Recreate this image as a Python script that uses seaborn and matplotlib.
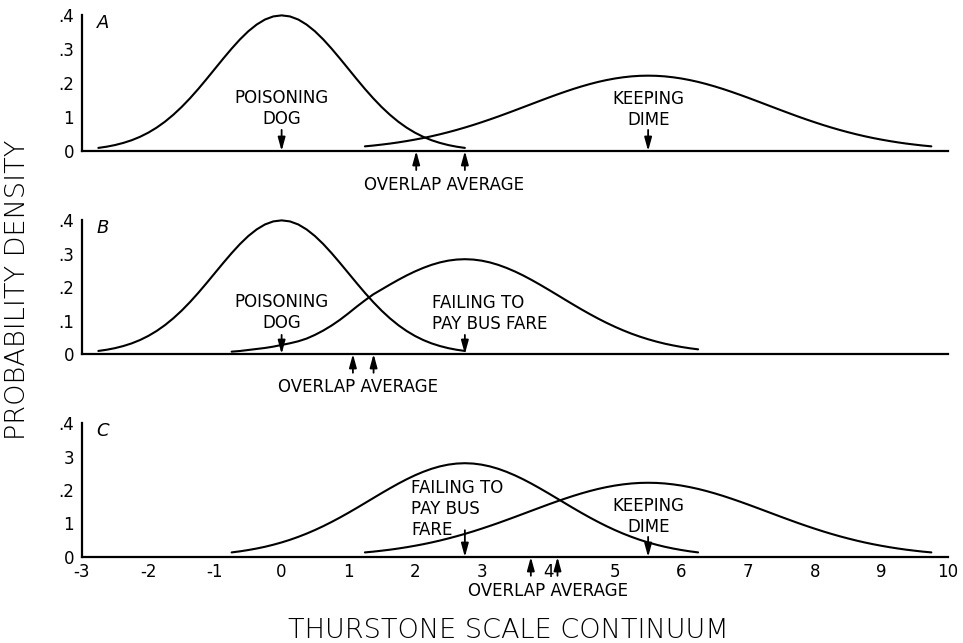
import matplotlib
matplotlib.use("Agg")
import matplotlib.pyplot as plt
import pandas as pd
import seaborn as sns

# ---------------- data ----------------
x_dog = [-2.75, -2.625, -2.5, -2.375, -2.25, -2.125, -2.0, -1.875, -1.75, -1.625, -1.5,
         -1.375, -1.25, -1.125, -1.0, -0.875, -0.75, -0.625, -0.5, -0.375, -0.25, -0.125,
         0.0, 0.125, 0.25, 0.375, 0.5, 0.625, 0.75, 0.875, 1.0, 1.125, 1.25, 1.375, 1.5,
         1.625, 1.75, 1.875, 2.0, 2.125, 2.25, 2.375, 2.5, 2.625, 2.75]
y_dog = [0.0091, 0.0127, 0.0175, 0.0238, 0.0317, 0.0417, 0.0540, 0.0688, 0.0863, 0.1066,
         0.1295, 0.1550, 0.1826, 0.2119, 0.2420, 0.2720, 0.3011, 0.3282, 0.3521, 0.3718,
         0.3867, 0.3958, 0.3989, 0.3958, 0.3867, 0.3718, 0.3521, 0.3282, 0.3011, 0.2720,
         0.2420, 0.2119, 0.1826, 0.1550, 0.1295, 0.1066, 0.0863, 0.0688, 0.0540, 0.0417,
         0.0317, 0.0238, 0.0175, 0.0127, 0.0091]

x_dime = [1.25, 1.375, 1.5, 1.625, 1.75, 1.875, 2.0, 2.125, 2.25, 2.375, 2.5, 2.625, 2.75,
          2.875, 3.0, 3.125, 3.25, 3.375, 3.5, 3.625, 3.75, 3.875, 4.0, 4.125, 4.25, 4.375,
          4.5, 4.625, 4.75, 4.875, 5.0, 5.125, 5.25, 5.375, 5.5, 5.625, 5.75, 5.875, 6.0,
          6.125, 6.25, 6.375, 6.5, 6.625, 6.75, 6.875, 7.0, 7.125, 7.25, 7.375, 7.5, 7.625,
          7.75, 7.875, 8.0, 8.125, 8.25, 8.375, 8.5, 8.625, 8.75, 8.875, 9.0, 9.125, 9.25,
          9.375, 9.5, 9.625, 9.75]
y_dime = [0.0137, 0.0160, 0.0188, 0.0218, 0.0253, 0.0292, 0.0335, 0.0382, 0.0434, 0.0491,
          0.0553, 0.0619, 0.0690, 0.0765, 0.0845, 0.0928, 0.1014, 0.1104, 0.1195, 0.1288,
          0.1381, 0.1474, 0.1566, 0.1655, 0.1741, 0.1823, 0.1899, 0.1969, 0.2032, 0.2086,
          0.2132, 0.2168, 0.2195, 0.2211, 0.2216, 0.2211, 0.2195, 0.2168, 0.2132, 0.2086,
          0.2032, 0.1969, 0.1899, 0.1823, 0.1741, 0.1655, 0.1566, 0.1474, 0.1381, 0.1288,
          0.1195, 0.1104, 0.1014, 0.0928, 0.0845, 0.0765, 0.0690, 0.0619, 0.0553, 0.0491,
          0.0434, 0.0382, 0.0335, 0.0292, 0.0253, 0.0218, 0.0188, 0.0160, 0.0137]

x_bus = [-0.75, -0.625, -0.5, -0.375, -0.25, -0.125, 0.0, 0.125, 0.25, 0.375, 0.5, 0.625,
         0.75, 0.875, 1.0, 1.125, 1.25, 1.375, 1.5, 1.625, 1.75, 1.875, 2.0, 2.125, 2.25,
         2.375, 2.5, 2.625, 2.75, 2.875, 3.0, 3.125, 3.25, 3.375, 3.5, 3.625, 3.75, 3.875,
         4.0, 4.125, 4.25, 4.375, 4.5, 4.625, 4.75, 4.875, 5.0, 5.125, 5.25, 5.375, 5.5,
         5.625, 5.75, 5.875, 6.0, 6.125, 6.25]
y_bus_b = [0.007, 0.009, 0.012, 0.015, 0.018, 0.022, 0.027, 0.032, 0.038, 0.046, 0.057,
           0.070, 0.085, 0.102, 0.121, 0.141, 0.160, 0.178, 0.1926, 0.2072, 0.2212, 0.2344,
           0.2464, 0.2570, 0.2661, 0.2734, 0.2787, 0.2819, 0.2830, 0.2819, 0.2787, 0.2734,
           0.2661, 0.2570, 0.2464, 0.2344, 0.2212, 0.2072, 0.1926, 0.1777, 0.1626, 0.1477,
           0.1331, 0.1191, 0.1057, 0.0931, 0.0814, 0.0706, 0.0607, 0.0519, 0.0440, 0.0370,
           0.0308, 0.0256, 0.0210, 0.0171, 0.0139]
y_bus_c = [0.0137, 0.0169, 0.0208, 0.0253, 0.0305, 0.0366, 0.0435, 0.0513, 0.0601, 0.0698,
           0.0805, 0.0921, 0.1046, 0.1178, 0.1317, 0.1461, 0.1609, 0.1758, 0.1906, 0.2050,
           0.2189, 0.2319, 0.2438, 0.2543, 0.2633, 0.2705, 0.2757, 0.2789, 0.2800, 0.2789,
           0.2757, 0.2705, 0.2633, 0.2543, 0.2438, 0.2319, 0.2189, 0.2050, 0.1906, 0.1758,
           0.1609, 0.1461, 0.1317, 0.1178, 0.1046, 0.0921, 0.0805, 0.0698, 0.0601, 0.0513,
           0.0435, 0.0366, 0.0305, 0.0253, 0.0208, 0.0169, 0.0137]

panel_letters = ["A", "B", "C"]
x_ticks = [-3, -2, -1, 0, 1, 2, 3, 4, 5, 6, 7, 8, 9, 10]
x_tick_labels = ["-3", "-2", "-1", "0", "1", "2", "3", "4", "5", "6", "7", "8", "9", "10"]
y_ticks = [0.0, 0.1, 0.2, 0.3, 0.4]
y_tick_labels = [["0", "1", ".2", ".3", ".4"],
                 ["0", ".1", ".2", ".3", ".4"],
                 ["0", "1", ".2", "3", ".4"]]

# stimulus labels: text, x position
labels_A = [("POISONING\nDOG", 0.0), ("KEEPING\nDIME", 5.5)]
labels_B = [("POISONING\nDOG", 0.0), ("FAILING TO\nPAY BUS FARE", 2.26)]
labels_C = [("FAILING TO\nPAY BUS\nFARE", 1.94), ("KEEPING\nDIME", 5.5)]
scale_values = [[0.0, 5.5], [0.0, 2.75], [2.75, 5.5]]          # down arrows
overlap_average = [[2.02, 2.75], [1.07, 1.38], [3.74, 4.14]]   # up arrows
overlap_text = "OVERLAP AVERAGE"
overlap_text_x = [2.43, 1.14, 4.0]

# ---------------- layout / style ----------------
sns.set_theme(style="white")
plt.rcParams["font.family"] = ["DejaVu Sans"]
for k in ["text.color", "axes.labelcolor", "xtick.color", "ytick.color", "axes.edgecolor"]:
    plt.rcParams[k] = "black"

W, H = 963, 643
fig = plt.figure(figsize=(W / 100, H / 100), dpi=100)

left = 81.7 / W
width = (948 - 81.7) / W
panels_px = [(15, 151), (220, 354), (423, 557)]   # top, bottom in px
lab_font = dict(family="DejaVu Sans", size=12, color="black")

curves = [[(x_dog, y_dog), (x_dime, y_dime)],
          [(x_dog, y_dog), (x_bus, y_bus_b)],
          [(x_bus, y_bus_c), (x_dime, y_dime)]]
labels = [labels_A, labels_B, labels_C]
label_y = [[0.126, 0.121], [0.124, 0.122], [0.143, 0.122]]
label_ha = [["center", "center"], ["center", "left"], ["left", "center"]]
arrow_top = [[0.062, 0.062], [0.057, 0.057], [0.080, 0.060]]
arrow_style = "-|>,head_length=0.8,head_width=0.22"

for i in range(3):
    top_px, bot_px = panels_px[i]
    ax = fig.add_axes([left, 1 - bot_px / H, width, (bot_px - top_px) / H])
    for xs, ys in curves[i]:
        df = pd.DataFrame({"x": xs, "y": ys})
        sns.lineplot(data=df, x="x", y="y", ax=ax, color="black", lw=1.5,
                     clip_on=False, sort=True)
    ax.set_xlim(-3, 10)
    ax.set_ylim(0, 0.4)
    ax.set_xlabel("")
    ax.set_ylabel("")
    for s in ["top", "right"]:
        ax.spines[s].set_visible(False)
    for s in ["left", "bottom"]:
        ax.spines[s].set_linewidth(1.6)
        ax.spines[s].set_color("black")
    ax.set_xticks(x_ticks)
    if i == 2:
        ax.set_xticklabels(x_tick_labels, **lab_font)
    else:
        ax.set_xticklabels([])
    ax.set_yticks(y_ticks)
    ax.set_yticklabels(y_tick_labels[i], **lab_font)
    ax.tick_params(axis="x", direction="in", length=5, width=1.3, pad=4, colors="black")
    ax.tick_params(axis="y", direction="inout", length=7, width=1.3, pad=2, colors="black")
    ax.patch.set_alpha(0)

    ax.text(-2.68, 0.375, panel_letters[i], style="italic", ha="center", va="center",
            fontsize=13, family="DejaVu Sans", color="black")

    for j, (txt, lx) in enumerate(labels[i]):
        ax.text(lx, label_y[i][j], txt, ha=label_ha[i][j], va="center",
                multialignment="left" if label_ha[i][j] == "left" else "center",
                linespacing=1.2, **lab_font)
    for j, mx in enumerate(scale_values[i]):
        ax.annotate("", xy=(mx, 0), xytext=(mx, arrow_top[i][j]),
                    arrowprops=dict(arrowstyle=arrow_style, color="black", lw=1.3,
                                    shrinkA=0, shrinkB=0, mutation_scale=10),
                    annotation_clip=False)
    for ox in overlap_average[i]:
        ax.annotate("", xy=(ox, 0), xytext=(ox, -0.056),
                    arrowprops=dict(arrowstyle=arrow_style, color="black", lw=1.3,
                                    shrinkA=0, shrinkB=0, mutation_scale=10),
                    annotation_clip=False)
    ax.text(overlap_text_x[i], -0.10, overlap_text, ha="center", va="center",
            clip_on=False, **lab_font)

fig.text(18 / W, 1 - 290 / H, "PROBABILITY DENSITY", rotation=90, ha="center",
         va="center", fontsize=19.5, family="DejaVu Sans", fontweight="light", color="black")
fig.text(508 / W, 1 - 630 / H, "THURSTONE SCALE CONTINUUM", ha="center", va="center",
         fontsize=19.5, family="DejaVu Sans", fontweight="light", color="black")

fig.savefig("out.png", dpi=100)
